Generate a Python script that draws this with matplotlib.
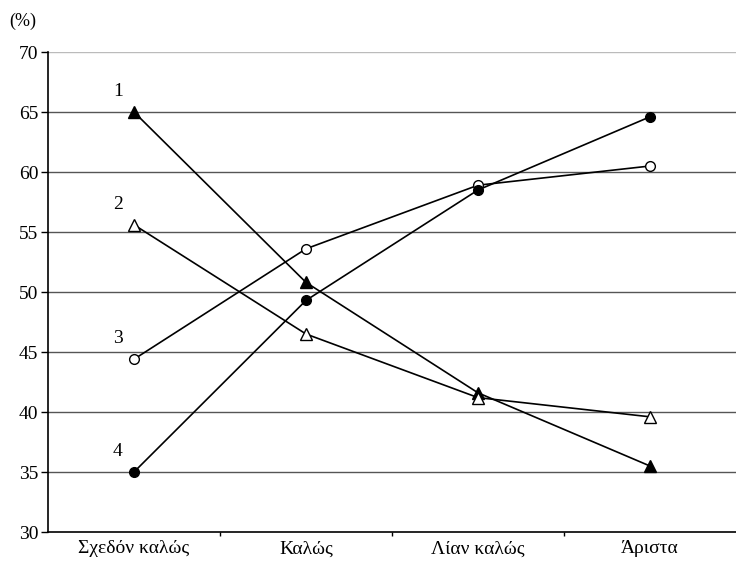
import matplotlib
matplotlib.use('Agg')
import matplotlib.pyplot as plt

plt.rcParams['font.family'] = ['Liberation Serif', 'DejaVu Serif']

categories = ['Σχεδόν καλώς', 'Καλώς', 'Λίαν καλώς', 'Άριστα']
s1 = [65.0, 50.8, 41.6, 35.5]   # filled triangles
s2 = [55.6, 46.5, 41.2, 39.6]   # open triangles
s3 = [44.4, 53.6, 58.9, 60.5]   # open circles
s4 = [35.0, 49.3, 58.5, 64.6]   # filled circles
series_labels = ['1', '2', '3', '4']

fig = plt.figure(figsize=(7.36, 5.64), dpi=100)
ax = fig.add_axes([0.0652, 0.0567, 0.9348, 0.8511])

x = [i + 0.5 for i in range(len(categories))]

for yv in range(35, 71, 5):
    ax.axhline(yv, color='#555555' if yv < 70 else '#bbbbbb', lw=1.0, zorder=1)

styles = [
    (s1, '^', 'black', 8.5),
    (s2, '^', 'white', 8.5),
    (s3, 'o', 'white', 7),
    (s4, 'o', 'black', 7),
]
for (vals, mk, fc, ms), lab in zip(styles, series_labels):
    ax.plot(x, vals, color='black', lw=1.2, marker=mk, markersize=ms,
            markerfacecolor=fc, markeredgecolor='black', markeredgewidth=1.0,
            zorder=3, clip_on=False)
    ax.annotate(lab, (x[0], vals[0]), xytext=(-16, 12), textcoords='offset pixels',
                fontsize=14, ha='center', va='bottom')

ax.set_xlim(0, 4)
ax.set_ylim(30, 70)
ax.set_yticks(range(30, 71, 5))
ax.set_xticks([1, 2, 3])
ax.set_xticklabels([])
ax.set_xticks(x, minor=True)
ax.set_xticklabels(categories, minor=True)
ax.tick_params(axis='x', which='minor', length=0, labelsize=14, pad=6)
ax.tick_params(axis='x', which='major', length=3, width=1, direction='out')
ax.tick_params(axis='y', length=5, width=1, direction='out', labelsize=14, pad=2)

for side in ['top', 'right']:
    ax.spines[side].set_visible(False)
ax.spines['left'].set_linewidth(1.2)
ax.spines['bottom'].set_linewidth(1.2)

fig.text(0.012, 0.978, '(%)', fontsize=13, ha='left', va='top')

fig.savefig('out.png', dpi=100)
